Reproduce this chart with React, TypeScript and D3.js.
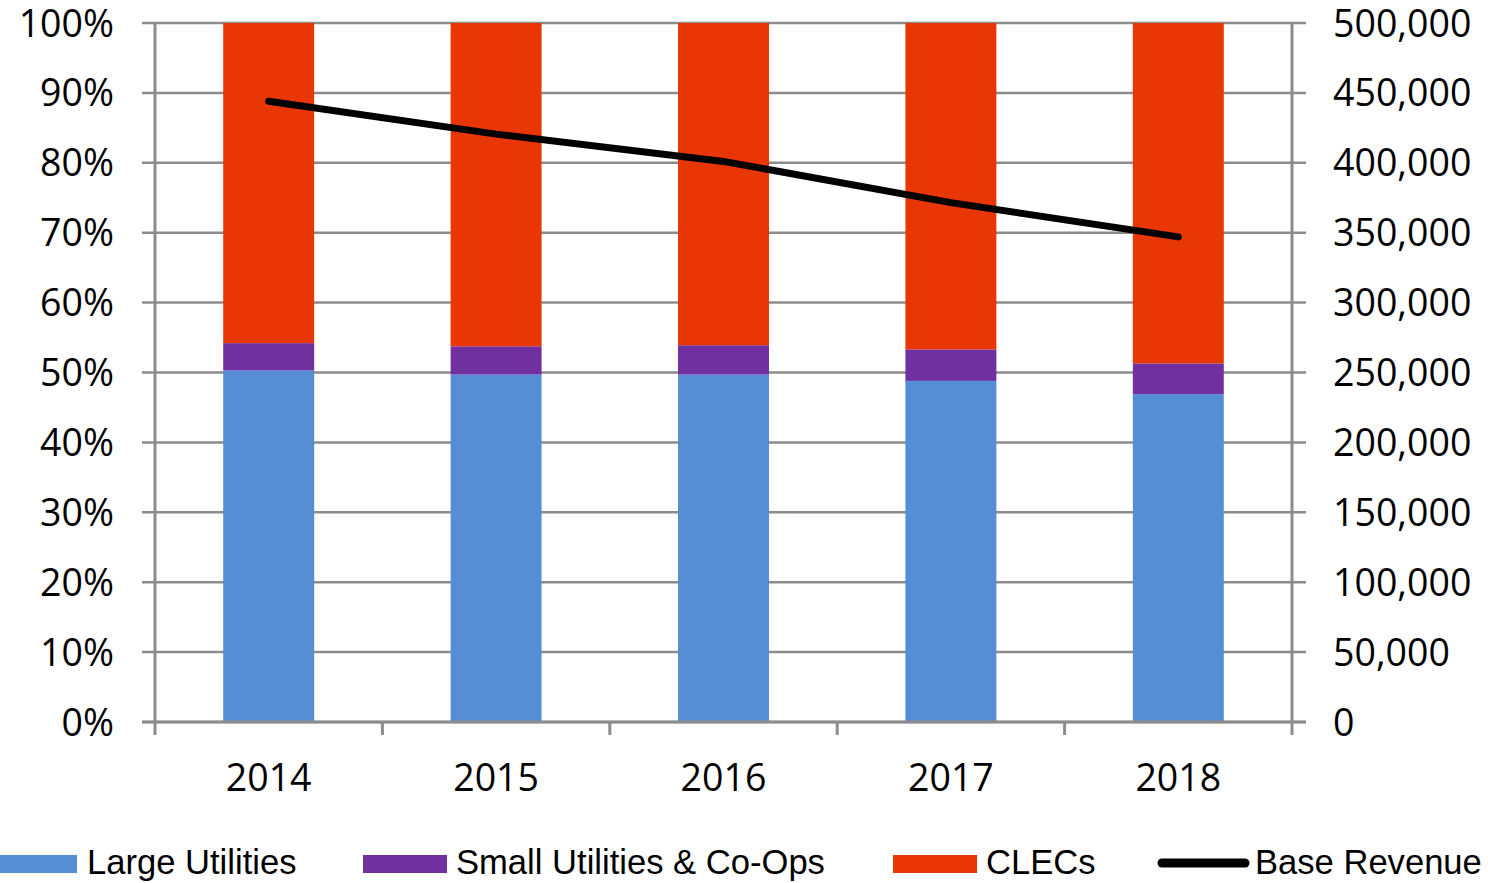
import React from "react";
import * as d3 from "d3";

const years = ["2014", "2015", "2016", "2017", "2018"];
const largeUtilities = [50.3, 49.7, 49.7, 48.8, 46.9];
const smallUtilities = [3.9, 4.05, 4.2, 4.5, 4.4];
const clecs = largeUtilities.map((v, i) => 100 - v - smallUtilities[i]);
const baseRevenue = [444000, 420500, 401000, 371500, 347000];
const leftTicks = [0, 10, 20, 30, 40, 50, 60, 70, 80, 90, 100];
const rightTicks = [0, 50000, 100000, 150000, 200000, 250000, 300000, 350000, 400000, 450000, 500000];

const COLORS = { large: "#558ED5", small: "#7030A0", clec: "#E83605", line: "#000000", grid: "#8C8C8C" };

export default function App() {
  const W = 1488, H = 883;
  const left = 155, right = 1292, top = 23, bottom = 722;
  const x = d3.scaleBand<string>().domain(years).range([left, right]).paddingInner(0).paddingOuter(0);
  const yL = d3.scaleLinear().domain([0, 100]).range([bottom, top]);
  const yR = d3.scaleLinear().domain([0, 500000]).range([bottom, top]);
  const bw = x.bandwidth() * 0.4;
  const cx = (y: string) => (x(y) as number) + x.bandwidth() / 2;
  const fmt = d3.format(",");
  const line = d3.line<number>().x((_, i) => cx(years[i])).y((d) => yR(d));
  const tickFont = "'Open Sans', sans-serif";
  const legFont = "'Liberation Sans', Arial, sans-serif";

  const stacks = years.map((yr, i) => {
    const a = largeUtilities[i], b = smallUtilities[i], c = clecs[i];
    return [
      { y0: 0, y1: a, c: COLORS.large },
      { y0: a, y1: a + b, c: COLORS.small },
      { y0: a + b, y1: a + b + c, c: COLORS.clec },
    ];
  });

  const boundaries = x.domain().map((d) => x(d) as number).concat([right]);

  return (
    <svg width={W} height={H} style={{ position: "absolute", left: 0, top: 0 }}>
      <rect width={W} height={H} fill="#fff" />
      {leftTicks.map((t) => (
        <line key={t} x1={142} x2={1306} y1={yL(t)} y2={yL(t)} stroke={COLORS.grid} strokeWidth={2.5} />
      ))}
      {stacks.map((s, i) =>
        s.map((seg, j) => (
          <rect key={i + "-" + j} x={cx(years[i]) - bw / 2} width={bw} y={yL(seg.y1)} height={yL(seg.y0) - yL(seg.y1)} fill={seg.c} />
        ))
      )}
      <line x1={left} x2={left} y1={top} y2={bottom} stroke={COLORS.grid} strokeWidth={3} />
      <line x1={right} x2={right} y1={top} y2={bottom} stroke={COLORS.grid} strokeWidth={3} />
      <line x1={142} x2={1306} y1={bottom} y2={bottom} stroke={COLORS.grid} strokeWidth={3} />
      {boundaries.map((b, i) => (
        <line key={i} x1={b} x2={b} y1={bottom} y2={735} stroke={COLORS.grid} strokeWidth={3} />
      ))}
      <path d={line(baseRevenue) || ""} fill="none" stroke={COLORS.line} strokeWidth={7} strokeLinecap="round" strokeLinejoin="round" />
      {leftTicks.map((t) => (
        <text key={t} x={114} y={yL(t)} dy="0.36em" textAnchor="end" fontFamily={tickFont} fontSize={37.5} fill="#000">
          {t + "%"}
        </text>
      ))}
      {rightTicks.map((t) => (
        <text key={t} x={1333} y={yR(t)} dy="0.36em" textAnchor="start" fontFamily={tickFont} fontSize={37.5} fill="#000">
          {fmt(t)}
        </text>
      ))}
      {years.map((yr) => (
        <text key={yr} x={cx(yr)} y={791} textAnchor="middle" fontFamily={tickFont} fontSize={37.5} fill="#000">
          {yr}
        </text>
      ))}
      <rect x={0} y={855} width={77} height={18} fill={COLORS.large} />
      <text x={87} y={874} fontFamily={legFont} fontSize={34.6} fill="#000">Large Utilities</text>
      <rect x={363} y={855} width={84} height={18} fill={COLORS.small} />
      <text x={456} y={874} fontFamily={legFont} fontSize={34.6} fill="#000">Small Utilities &amp; Co-Ops</text>
      <rect x={893} y={855} width={84} height={18} fill={COLORS.clec} />
      <text x={986} y={874} fontFamily={legFont} fontSize={34.6} fill="#000">CLECs</text>
      <line x1={1162} x2={1245} y1={863} y2={863} stroke="#000" strokeWidth={9} strokeLinecap="round" />
      <text x={1255} y={874} fontFamily={legFont} fontSize={34.6} fill="#000">Base Revenue</text>
    </svg>
  );
}
